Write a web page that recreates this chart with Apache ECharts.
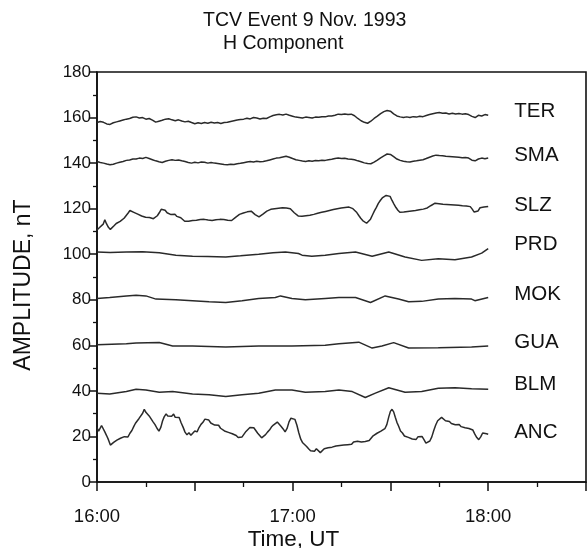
<!DOCTYPE html>
<html>
<head>
<meta charset="utf-8">
<script src="https://cdn.jsdelivr.net/npm/echarts@6/dist/echarts.min.js"></script>
<style>html,body{margin:0;padding:0;background:#fff}#c{width:588px;height:548px}</style>
</head>
<body>
<div id="c"></div>
<script>
// minutes after 16:00 UT, amplitude nT
const stations = ['TER','SMA','SLZ','PRD','MOK','GUA','BLM','ANC'];
const hourLabels = ['16:00','17:00','18:00'];
const TER = [[0,157.8],[1,158.3],[2,157.9],[3,157.2],[4,157.0],[5,157.7],[6,158.1],[7,158.5],[8,158.9],[9,159.3],[10,159.6],[11,160.1],[12,160.3],[13,159.8],[14,160.0],[15,159.3],[16,159.6],[17,158.9],[18,158.0],[19,158.4],[20,158.8],[21,159.3],[22,159.5],[23,159.0],[24,158.6],[25,159.0],[26,158.5],[27,158.1],[28,158.4],[29,157.8],[30,157.3],[31,157.7],[32,157.4],[33,157.8],[34,157.5],[35,157.9],[36,157.6],[37,157.8],[38,157.4],[39,157.8],[40,157.9],[41,158.3],[42,158.6],[43,158.9],[44,159.1],[45,159.3],[46,159.7],[47,159.4],[48,160.0],[49,159.8],[50,159.4],[51,159.7],[52,159.6],[53,160.3],[54,160.9],[55,161.2],[56,161.4],[57,161.1],[58,161.5],[59,161.0],[60,160.6],[61,160.2],[62,160.0],[63,159.8],[64,160.2],[65,160.0],[66,159.8],[67,160.2],[68,160.1],[69,160.4],[70,160.3],[71,160.7],[72,160.7],[73,161.0],[74,161.5],[75,161.3],[76,161.6],[77,161.3],[78,161.5],[79,160.8],[80,159.6],[81,158.6],[82,157.9],[83,157.5],[84,158.4],[85,159.6],[86,160.6],[87,161.7],[88,162.6],[89,163.1],[90,162.8],[91,161.6],[92,160.7],[93,160.3],[94,160.0],[95,160.3],[96,160.0],[97,160.4],[98,160.2],[99,160.6],[100,160.4],[101,160.9],[102,161.3],[103,161.7],[104,162.0],[105,162.2],[106,161.9],[107,162.0],[108,161.6],[109,161.9],[110,161.6],[111,161.8],[112,161.5],[113,161.7],[114,161.3],[115,160.5],[116,160.0],[117,161.0],[118,160.7],[119,161.3],[120,161.0]];
const SMA = [[0,140.7],[1,140.3],[2,140.0],[3,139.6],[4,139.3],[5,139.5],[6,140.0],[7,140.4],[8,140.7],[9,141.2],[10,141.4],[11,141.8],[12,141.8],[13,142.2],[14,142.0],[15,142.5],[16,142.0],[17,141.5],[18,141.0],[19,140.6],[20,140.3],[21,140.8],[22,141.2],[23,141.5],[24,141.2],[25,141.4],[26,141.0],[27,140.7],[28,140.3],[29,140.0],[30,140.4],[31,140.1],[32,140.5],[33,140.4],[34,140.0],[35,140.3],[36,140.0],[37,139.8],[38,139.6],[39,139.4],[40,139.3],[41,139.5],[42,139.4],[43,139.7],[44,139.9],[45,140.2],[46,140.5],[47,140.7],[48,140.5],[49,140.8],[50,140.6],[51,140.7],[52,141.0],[53,141.4],[54,141.8],[55,142.2],[56,142.4],[57,142.7],[58,143.0],[59,142.6],[60,142.0],[61,141.5],[62,141.2],[63,140.9],[64,140.7],[65,141.0],[66,140.8],[67,141.1],[68,141.0],[69,141.3],[70,141.2],[71,141.5],[72,141.7],[73,142.0],[74,142.2],[75,142.0],[76,142.1],[77,141.8],[78,141.7],[79,141.5],[80,141.0],[81,140.6],[82,140.1],[83,139.8],[84,139.7],[85,140.4],[86,141.3],[87,142.3],[88,143.2],[89,144.0],[90,143.8],[91,142.8],[92,141.8],[93,141.2],[94,140.8],[95,140.6],[96,140.5],[97,140.8],[98,141.0],[99,141.3],[100,141.5],[101,142.0],[102,142.6],[103,143.1],[104,143.5],[105,143.3],[106,143.2],[107,143.0],[108,142.9],[109,142.8],[110,142.7],[111,142.6],[112,142.4],[113,142.5],[114,142.2],[115,141.3],[116,141.0],[117,141.8],[118,142.2],[119,141.9],[120,142.2]];
const SLZ = [[0,110.7],[0.7,111.6],[1.3,111.0],[1.9,113.2],[2.4,115.1],[2.9,113.4],[3.5,111.8],[4.1,110.9],[4.7,111.3],[5.3,112.6],[5.9,113.5],[6.5,113.9],[7.1,114.4],[7.7,114.9],[8.3,115.8],[8.9,116.9],[9.5,118.0],[10.1,119.2],[10.7,119.5],[11.3,118.4],[11.9,118.9],[12.5,117.6],[13.1,117.9],[13.7,116.8],[14.3,117.4],[14.9,116.2],[15.5,117.0],[16.1,116.1],[16.7,116.8],[17.3,115.6],[17.9,116.2],[18.5,116.9],[19.1,118.2],[19.7,119.7],[20.3,119.0],[20.9,119.3],[21.5,118.2],[22.1,118.6],[22.7,117.4],[23.3,117.0],[23.9,117.6],[24.5,116.6],[25.1,117.2],[25.7,116.0],[26.3,115.5],[26.9,114.5],[27.5,113.9],[28.1,114.5],[28.7,114.0],[29.3,114.8],[29.9,115.4],[30.5,114.9],[31.1,115.6],[31.7,115.2],[32.3,116.0],[32.9,115.3],[33.5,115.7],[34.1,115.0],[34.7,115.5],[35.3,114.8],[35.9,115.6],[36.5,115.1],[37.1,115.9],[37.7,115.3],[38.3,116.0],[38.9,115.2],[39.5,115.7],[40.1,114.9],[40.7,115.4],[41.3,114.8],[41.9,115.6],[42.5,116.2],[43.1,116.8],[43.7,117.5],[44.3,117.2],[44.9,118.1],[45.5,117.8],[46.1,118.6],[46.7,118.3],[47.3,118.9],[47.9,118.1],[48.5,117.4],[49.1,116.9],[49.7,116.4],[50.3,116.9],[50.9,117.6],[51.5,118.3],[52.1,118.9],[52.7,119.4],[53.3,119.7],[53.9,120.3],[54.5,120.0],[55.1,120.6],[55.7,120.2],[56.3,120.9],[56.9,120.4],[57.5,119.8],[58.1,120.3],[58.7,119.7],[59.3,120.0],[59.9,119.1],[60.5,118.2],[61.1,117.5],[61.7,116.8],[62.3,116.3],[62.9,116.7],[63.5,116.2],[64.1,116.9],[64.7,117.4],[65.3,117.1],[65.9,117.7],[66.5,117.5],[67.1,118.3],[67.7,118.0],[68.3,118.7],[68.9,118.4],[69.5,119.1],[70.1,118.8],[70.7,119.5],[71.3,119.2],[71.9,119.9],[72.5,119.6],[73.1,120.3],[73.7,120.0],[74.3,120.6],[74.9,120.3],[75.5,120.8],[76.1,120.5],[76.7,121.1],[77.3,120.7],[77.9,120.9],[78.5,120.0],[79.1,119.2],[79.7,118.3],[80.3,117.0],[80.9,115.8],[81.5,114.8],[82.1,114.0],[82.7,113.6],[83.3,114.2],[83.9,115.4],[84.5,117.2],[85.1,119.0],[85.7,120.6],[86.3,122.3],[86.9,123.6],[87.5,124.7],[88.1,125.3],[88.7,125.8],[89.3,126.2],[89.9,125.4],[90.5,123.6],[91.1,122.0],[91.7,120.5],[92.3,119.3],[92.9,118.4],[93.5,117.9],[94.1,118.5],[94.7,118.1],[95.3,118.8],[95.9,118.3],[96.5,119.0],[97.1,118.5],[97.7,119.2],[98.3,118.8],[98.9,119.5],[99.5,119.0],[100.1,119.8],[100.7,119.4],[101.3,120.3],[101.9,120.8],[102.5,121.4],[103.1,121.9],[103.7,122.4],[104.3,122.6],[104.9,122.2],[105.5,121.6],[106.1,121.9],[106.7,121.4],[107.3,121.8],[107.9,121.3],[108.5,121.7],[109.1,121.2],[109.7,121.6],[110.3,121.1],[110.9,121.5],[111.5,120.9],[112.1,121.3],[112.7,120.8],[113.3,121.2],[113.9,120.6],[114.5,120.9],[115.1,119.8],[115.7,118.5],[116.3,117.9],[116.9,119.0],[117.5,120.4],[118.1,119.8],[118.7,120.7],[119.3,120.3],[120,121.0]];
const PRD = [[0,101],[4,100.8],[9,101],[14,101.1],[19.1,100.6],[24.2,99.6],[29.3,99.1],[34,99.0],[39.5,98.8],[44,99.3],[49.6,100],[54,100.6],[57.8,101],[61.8,100.3],[62.9,99.6],[65.9,99.1],[70,99.6],[74.2,100.3],[79.3,101],[84.4,99.1],[89.5,101],[94.5,98.8],[99.6,97.3],[104.7,98],[109.8,97.6],[114.9,98.8],[118,100.5],[120,102.5]];
const MOK = [[0,80.6],[3.9,81],[9,81.7],[12,82],[15,81.7],[18.1,80.3],[24.2,80],[29.3,79.6],[34.4,79.1],[39.5,78.8],[44.5,79.6],[49.6,80.6],[54.7,81],[56.3,81.7],[59.8,80.6],[63.9,80],[70,80.6],[74.2,81],[79.3,81],[83.9,78.8],[88.4,81.7],[92.5,80.3],[95.6,79.1],[99.6,79.3],[104.7,80.3],[109.8,80.6],[114.9,80.3],[115.9,79.6],[120,81]];
const GUA = [[0,60.3],[9,60.7],[12,61],[19.1,61.2],[23.2,59.7],[29.3,59.7],[39.5,59.3],[49.6,59.7],[59.8,59.7],[70,60],[74.2,60.7],[80.3,61.4],[84.4,58.8],[87.4,59.7],[91,61.2],[95.6,58.8],[104.7,58.9],[114.9,59.3],[120,59.7]];
const BLM = [[0,39],[3.9,38.6],[9,39.7],[12,40.7],[15,40.4],[19.1,39.4],[23.2,39.7],[29.3,38.6],[34.4,38.3],[39.5,37.5],[44.5,38.3],[49.6,39],[54.7,40.4],[59.8,40.4],[63.9,39.4],[70,39.7],[74.2,40.4],[78.3,39.7],[82.3,37.1],[85.4,39],[89.5,41.4],[94.5,39.4],[99.6,39.7],[104.7,41.2],[109.8,41.4],[114.9,40.9],[120,40.7]];
const ANC = [[0,23.9],[0.5,22.3],[0.9,23.0],[1.4,24.8],[1.9,24.2],[2.4,22.0],[2.9,20.5],[3.5,18.6],[4.1,16.2],[4.6,15.8],[5.1,17.4],[5.6,17.0],[6.1,18.4],[6.7,18.0],[7.2,19.2],[7.8,18.9],[8.4,19.9],[9.0,20.3],[9.5,19.8],[10.1,21.4],[10.7,22.6],[11.3,24.4],[11.8,25.8],[12.4,26.5],[12.9,27.9],[13.5,28.6],[14.0,30.2],[14.5,31.9],[15.0,30.6],[15.5,30.9],[16.0,29.0],[16.6,28.2],[17.2,26.4],[17.8,25.2],[18.4,23.6],[19.0,22.3],[19.6,24.1],[20.1,26.8],[20.6,28.6],[21.2,29.9],[21.7,29.0],[22.3,29.6],[22.9,28.9],[23.5,29.8],[24.0,28.4],[24.6,27.6],[25.2,28.3],[25.8,26.0],[26.4,24.1],[27.0,21.9],[27.6,20.7],[28.2,21.6],[28.8,20.5],[29.4,21.3],[30.0,22.4],[30.7,22.0],[31.3,23.9],[31.9,25.3],[32.5,26.2],[33.1,27.6],[33.7,26.8],[34.3,27.2],[34.9,25.9],[35.5,26.4],[36.1,25.0],[36.7,24.3],[37.3,24.9],[37.9,23.6],[38.5,23.9],[39.1,22.4],[39.7,23.0],[40.3,21.8],[40.9,22.5],[41.5,21.2],[42.1,21.9],[42.7,20.4],[43.3,19.5],[43.9,20.2],[44.5,19.8],[45.1,21.0],[45.7,22.2],[46.3,22.8],[46.9,23.9],[47.5,24.7],[48.1,23.8],[48.7,22.6],[49.3,21.4],[49.9,20.6],[50.5,19.4],[51.1,19.9],[51.7,20.8],[52.3,21.9],[52.9,22.8],[53.5,24.1],[54.1,25.0],[54.7,25.8],[55.3,26.3],[55.9,25.6],[56.5,24.4],[57.1,23.3],[57.7,22.0],[58.3,23.5],[58.9,26.4],[59.5,28.0],[60.1,28.4],[60.7,27.5],[61.3,25.0],[61.9,21.6],[62.5,18.8],[63.1,17.2],[63.7,16.4],[64.3,15.6],[64.9,14.6],[65.5,13.7],[66.1,14.4],[66.7,13.5],[67.3,14.6],[67.9,13.9],[68.5,12.9],[69.1,13.3],[69.7,14.6],[70.3,14.1],[70.9,15.0],[71.5,14.7],[72.1,15.3],[72.7,15.0],[73.3,15.8],[73.9,15.4],[74.5,16.0],[75.1,16.7],[75.7,16.2],[76.3,16.9],[76.9,16.4],[77.5,17.1],[78.1,16.6],[78.7,17.6],[79.3,17.0],[79.9,17.9],[80.5,18.4],[81.1,17.6],[81.7,17.1],[82.3,17.8],[82.9,17.2],[83.5,18.2],[84.1,19.0],[84.7,20.3],[85.3,20.1],[85.9,21.4],[86.5,21.0],[87.1,22.3],[87.7,22.9],[88.3,23.4],[88.9,25.2],[89.5,28.6],[90.0,31.0],[90.5,31.9],[91.0,30.8],[91.5,28.4],[92.0,26.2],[92.5,24.6],[93.1,22.4],[93.7,21.5],[94.3,20.2],[94.9,20.8],[95.5,19.6],[96.1,20.1],[96.7,18.9],[97.3,19.5],[97.9,18.7],[98.5,19.9],[99.1,19.2],[99.7,20.0],[100.3,18.6],[100.9,17.1],[101.5,16.6],[102.1,18.0],[102.7,19.8],[103.3,22.6],[103.9,25.0],[104.5,26.9],[105.1,27.6],[105.7,28.4],[106.3,27.9],[106.9,26.9],[107.5,26.2],[108.1,26.6],[108.7,25.7],[109.3,25.9],[109.9,25.1],[110.5,24.8],[111.1,25.2],[111.7,24.3],[112.3,24.6],[112.9,23.8],[113.5,24.2],[114.1,23.5],[114.7,23.9],[115.3,22.8],[115.9,21.0],[116.5,19.5],[117.1,18.6],[117.7,19.8],[118.3,21.5],[118.9,22.2],[119.5,21.2],[120,21.0]];

const seriesData = [TER,SMA,SLZ,PRD,MOK,GUA,BLM,ANC];
const labelDy = [-3.5,-2.5,-1.5,-4.5,-3.5,-3.5,-4.5,-1.5];
const FONT = '"Liberation Sans", Arial, Helvetica, sans-serif';

const chart = echarts.init(document.getElementById('c'), null, {renderer:'canvas'});
chart.setOption({
  animation: false,
  backgroundColor: '#fff',
  title: [
    {text:'TCV Event 9 Nov. 1993', left:203, top:11, padding:0, textStyle:{fontFamily:FONT, fontSize:19.5, fontWeight:'normal', color:'#111'}},
    {text:'H Component', left:223, top:34, padding:0, textStyle:{fontFamily:FONT, fontSize:19.5, fontWeight:'normal', color:'#111'}}
  ],
  grid: {left:97, right:2, top:72, bottom:66, containLabel:false, outerBoundsMode:'none',
    show:true, borderColor:'#111', borderWidth:1.6, backgroundColor:'transparent'},
  xAxis: {
    type:'value', min:0, max:150, interval:30,
    name:'Time, UT', nameLocation:'middle', nameGap:46, nameMoveOverlap:false,
    nameTextStyle:{fontFamily:FONT, fontSize:22.5, color:'#111', padding:[0,96,0,0]},
    axisLine:{show:true, lineStyle:{color:'#111', width:1.6}},
    axisTick:{show:true, length:9, inside:false, lineStyle:{color:'#111', width:1.5}},
    minorTick:{show:true, splitNumber:2, length:5, lineStyle:{color:'#111', width:1.3}},
    splitLine:{show:false},
    axisLabel:{fontFamily:FONT, fontSize:18.5, color:'#111', margin:25, showMaxLabel:false,
      formatter: v => (v % 60 === 0 && v/60 < hourLabels.length) ? hourLabels[v/60] : ''}
  },
  yAxis: {
    type:'value', min:0, max:180, interval:20,
    name:'AMPLITUDE, nT', nameLocation:'middle', nameGap:62, nameRotate:90, nameMoveOverlap:false,
    nameTextStyle:{fontFamily:FONT, fontSize:23, color:'#111', padding:[0,16,0,0]},
    axisLine:{show:true, lineStyle:{color:'#111', width:1.6}},
    axisTick:{show:true, length:8, lineStyle:{color:'#111', width:1.5}},
    minorTick:{show:true, splitNumber:2, length:4, lineStyle:{color:'#111', width:1.3}},
    splitLine:{show:false},
    axisLabel:{fontFamily:FONT, fontSize:17, color:'#111', margin:6}
  },
  series: stations.map((name,i) => ({
    name, type:'line', data: seriesData[i], showSymbol:false, symbol:'none',
    lineStyle:{color:'#2a2a2a', width:1.5},
    endLabel:{show:true, formatter:'{a}', distance:26, offset:[0,labelDy[i]],
      fontFamily:FONT, fontSize:20.5, color:'#111'}
  }))
});
</script>
</body>
</html>
